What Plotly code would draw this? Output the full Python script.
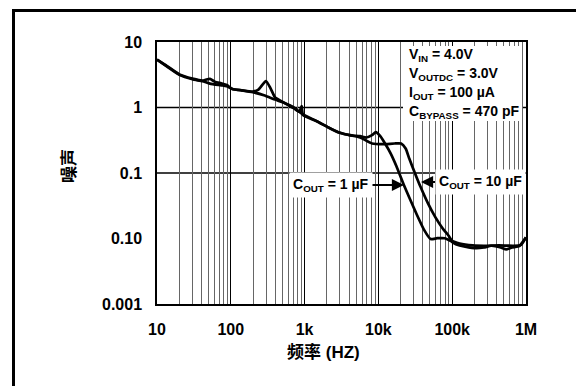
import plotly.graph_objects as go

# ---------------- data ----------------
freq_1uF = [10, 13.7, 20.1, 30.2, 41.3, 46.4, 52.1, 60.7, 74, 88, 105, 140, 199, 281, 399, 504,
            714, 912, 1436, 2032, 2884, 4085, 5660, 6890, 8200, 9230, 10600, 12300, 14700,
            17500, 22000, 26200, 33100, 41800, 50900, 62800, 79200, 94400, 112000, 150000,
            213000, 269000, 339000, 454000, 540000, 643000, 811000, 1000000]
noise_1uF = [5.38, 4.3, 3.2, 2.76, 2.57, 2.67, 2.73, 2.48, 2.34, 2.21, 1.92, 1.83, 1.71, 1.54, 1.32,
             1.20, 1.0, 0.807, 0.624, 0.506, 0.42, 0.378, 0.365, 0.348, 0.378, 0.42, 0.365,
             0.282, 0.198, 0.128, 0.0668, 0.0423, 0.0233, 0.0134, 0.0098, 0.0101, 0.0101,
             0.0092, 0.0082, 0.0075, 0.0071, 0.0073, 0.00775, 0.0073, 0.0068, 0.0073, 0.00766,
             0.0104]

freq_10uF = [10, 13.7, 20.1, 30.2, 41.3, 52.1, 74, 88, 105, 140, 199, 237, 299, 347, 399, 504,
             714, 849, 912, 955, 1436, 2032, 2884, 4085, 5660, 8200, 11600, 16500, 20300,
             23400, 26200, 31300, 37200, 47000, 59300, 74800, 89000, 100000, 126000, 190000,
             269000, 428000, 681000, 859000, 1000000]
noise_10uF = [5.38, 4.2, 3.15, 2.7, 2.52, 2.32, 2.18, 2.11, 1.92, 1.83, 1.75, 1.88, 2.54, 1.94,
              1.42, 1.22, 0.975, 0.857, 1.05, 0.762, 0.624, 0.506, 0.415, 0.378, 0.348, 0.282,
              0.275, 0.282, 0.282, 0.237, 0.166, 0.0994, 0.0615, 0.0343, 0.0210, 0.0141,
              0.0111, 0.0092, 0.0084, 0.00785, 0.00775, 0.00785, 0.00775, 0.0080, 0.0104]

x_tickvals = [10, 100, 1000, 10000, 100000, 1000000]
x_ticktext = ["10", "100", "1k", "10k", "100k", "1M"]
y_tickvals = [0.001, 0.01, 0.1, 1, 10]
y_ticktext = ["0.001", "0.10", "0.1", "1", "10"]
h_grid = [0.1, 1]

cond_lines = ["V<sub>IN</sub> = 4.0V", "V<sub>OUTDC</sub> = 3.0V",
              "I<sub>OUT</sub> = 100 µA", "C<sub>BYPASS</sub> = 470 pF"]
label_1uF = "C<sub>OUT</sub> = 1 µF"
label_10uF = "C<sub>OUT</sub> = 10 µF"
x_title = "频率 (HZ)"
y_title = "噪声"

FONT = "Liberation Sans, Arial, Noto Sans CJK SC, sans-serif"

# ---------------- figure ----------------
fig = go.Figure()
fig.add_trace(go.Scatter(x=freq_1uF, y=noise_1uF, mode="lines",
                         line=dict(color="black", width=2.7, shape="spline", smoothing=0.5),
                         showlegend=False, hoverinfo="skip"))
fig.add_trace(go.Scatter(x=freq_10uF, y=noise_10uF, mode="lines",
                         line=dict(color="black", width=2.7, shape="spline", smoothing=0.5),
                         showlegend=False, hoverinfo="skip"))

minor_vals = [d * k for d in [10, 100, 1000, 10000, 100000] for k in range(2, 10)]

# page body has an 8px margin; the figure is positioned to compensate
OFF = 8
W, H = 584 - OFF, 387 - OFF
pw, ph = 369, 262
L, T = 157 - OFF, 42 - OFF
R, B = W - L - pw, H - T - ph


def px(xp):  # window pixel -> paper
    return (xp - OFF - L) / pw


def py(yp):
    return (T + ph - (yp - OFF)) / ph


shapes = []
for v in h_grid:
    shapes.append(dict(type="line", xref="paper", x0=0, x1=1, yref="y", y0=v, y1=v,
                       line=dict(color="black", width=1.3), layer="between"))
# white box behind conditions text
shapes.append(dict(type="rect", xref="paper", yref="paper", x0=px(403), x1=px(522),
                   y0=py(121), y1=py(46), fillcolor="white", line=dict(width=0), layer="above"))
# outer frame: left and top edges, drawn as a filled path (no stroke)
shapes.append(dict(type="rect", xref="paper", yref="paper", x0=px(12), x1=px(15),
                   y0=py(386), y1=py(9), fillcolor="black", line=dict(width=0), layer="above"))
shapes.append(dict(type="rect", xref="paper", yref="paper", x0=px(12), x1=px(583),
                   y0=py(12), y1=py(9), fillcolor="black", line=dict(width=0), layer="above"))

annotations = []
for i, t in enumerate(cond_lines):
    annotations.append(dict(text=t, xref="paper", yref="paper", x=px(407), y=py(55 + i * 19),
                            xanchor="left", yanchor="middle", showarrow=False,
                            font=dict(size=14, color="black", family=FONT, weight="bold")))
annotations.append(dict(text=label_1uF, xref="paper", yref="paper", x=px(404), y=py(185),
                        ax=-73, ay=0, showarrow=True, arrowhead=2, arrowsize=1.1, arrowwidth=2.2,
                        arrowcolor="black", standoff=0, bgcolor="white", borderpad=3,
                        font=dict(size=14, color="black", family=FONT, weight="bold")))
annotations.append(dict(text=label_10uF, xref="paper", yref="paper", x=px(421), y=py(182),
                        ax=59, ay=0, showarrow=True, arrowhead=2, arrowsize=1.1, arrowwidth=2.2,
                        arrowcolor="black", standoff=0, bgcolor="white", borderpad=3,
                        font=dict(size=14, color="black", family=FONT, weight="bold")))
annotations.append(dict(text=x_title, xref="paper", yref="paper", x=px(323), y=py(352),
                        xanchor="center", yanchor="middle", showarrow=False,
                        font=dict(size=17, color="black", family=FONT, weight="bold")))
annotations.append(dict(text=y_title, xref="paper", yref="paper", x=px(69), y=py(166),
                        xanchor="center", yanchor="middle", showarrow=False, textangle=-90,
                        font=dict(size=17, color="black", family=FONT, weight="bold")))

fig.update_layout(
    width=W, height=H,
    margin=dict(l=L, r=R, t=T, b=B, pad=0),
    paper_bgcolor="white", plot_bgcolor="white",
    font=dict(family=FONT, color="black"),
    shapes=shapes, annotations=annotations,
    xaxis=dict(type="log", range=[1, 6], tickvals=x_tickvals, ticktext=x_ticktext,
               showgrid=True, gridcolor="black", gridwidth=1.3,
               minor=dict(tickvals=minor_vals, showgrid=True, gridcolor="#666", gridwidth=1),
               showline=True, linecolor="black", linewidth=1.5, mirror=True,
               ticks="", ticklabelstandoff=10, zeroline=False,
               tickfont=dict(size=16, family=FONT, weight="bold", color="black")),
    yaxis=dict(type="log", range=[-3, 1], tickvals=y_tickvals, ticktext=y_ticktext,
               showgrid=False, showline=True, linecolor="black", linewidth=1.5, mirror=True,
               ticks="", ticklabelstandoff=10, zeroline=False,
               tickfont=dict(size=16, family=FONT, weight="bold", color="black")),
)

fig.write_html("out.html")
